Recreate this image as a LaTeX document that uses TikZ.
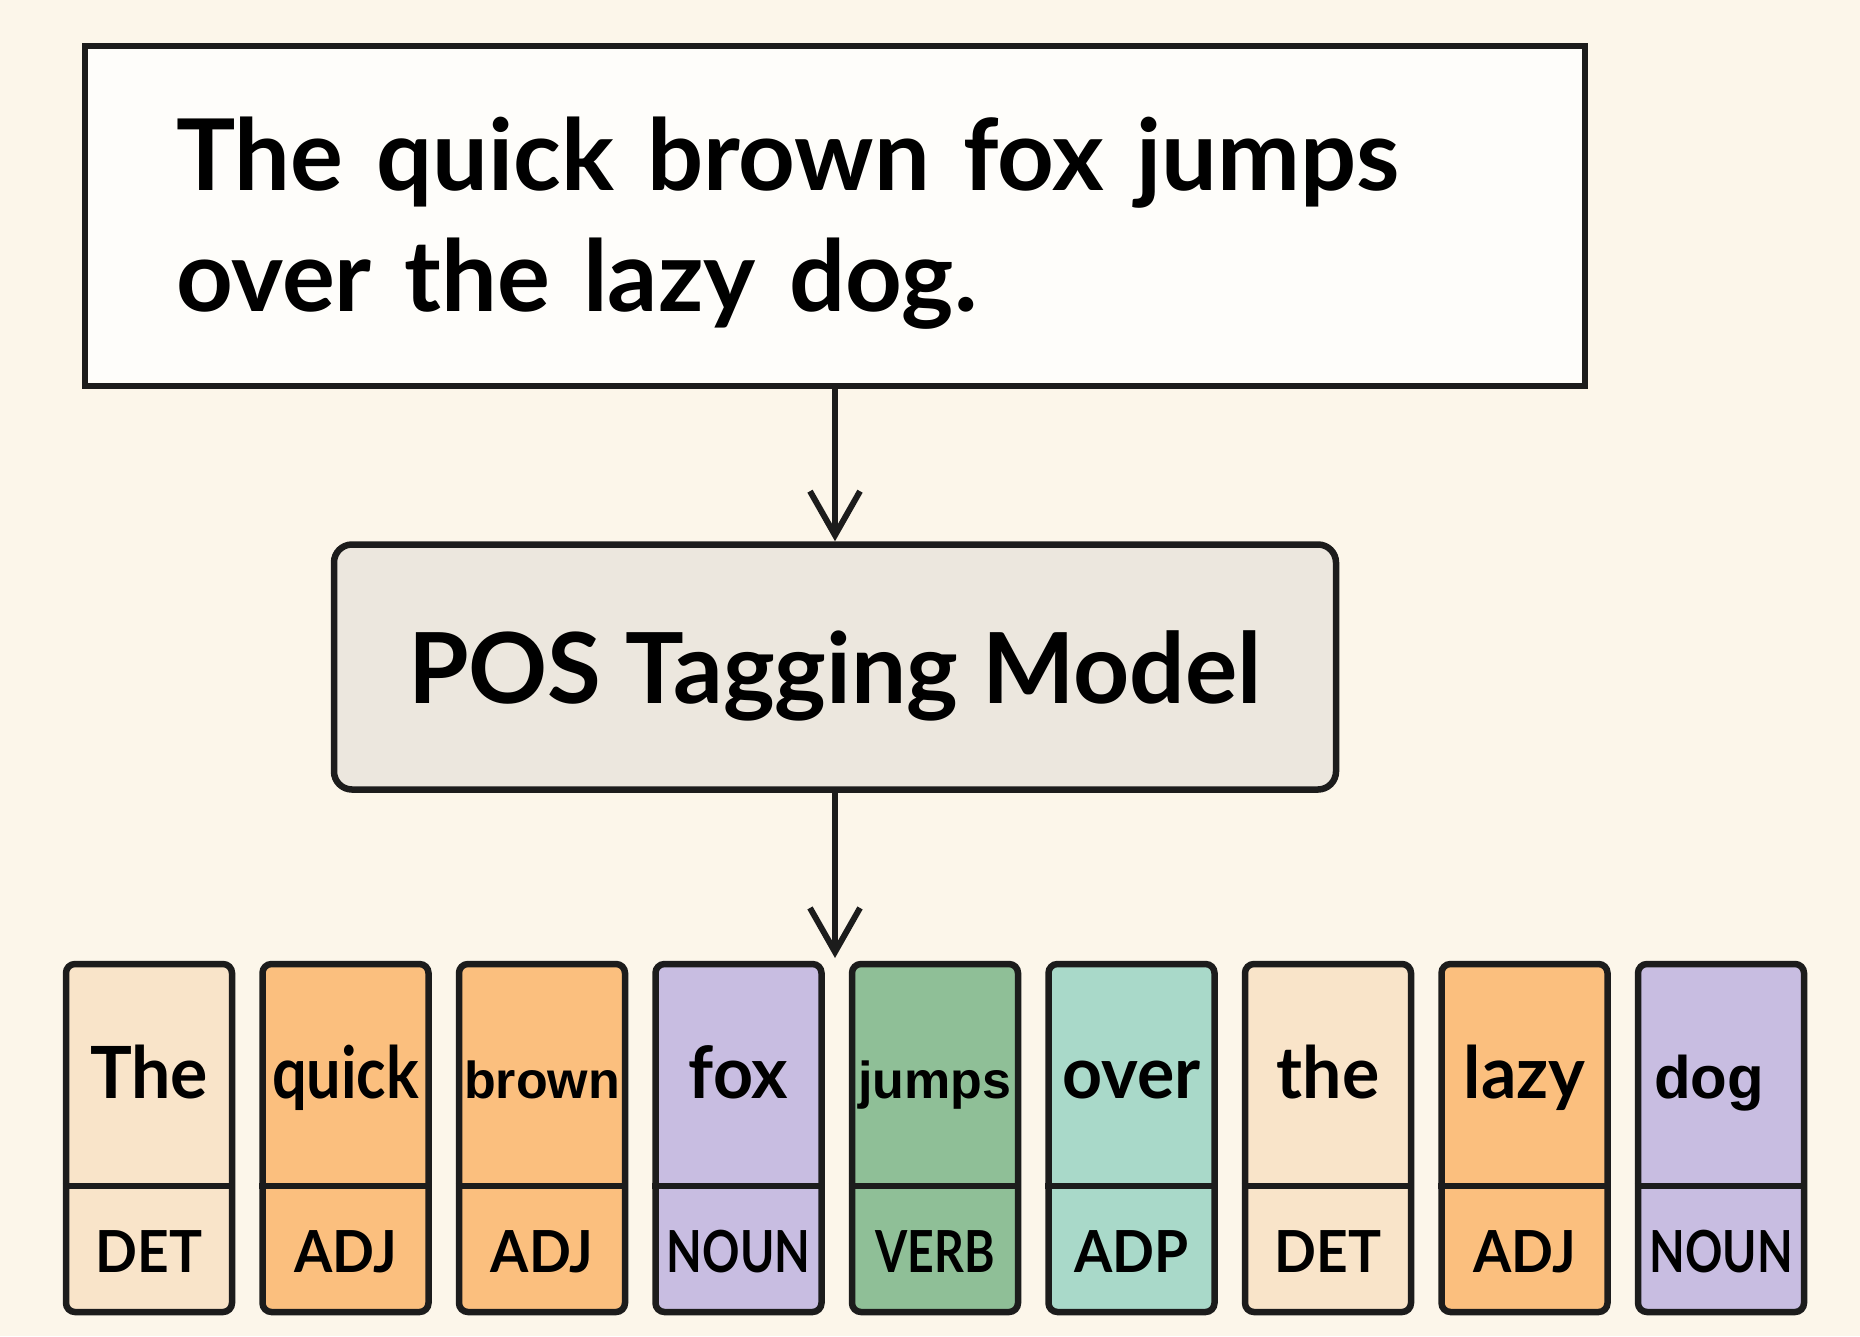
\documentclass[tikz,border=0pt]{standalone}
\usepackage{fontspec}
\setmainfont{Lato}
\newfontfamily\wordfont{Lato}[FakeStretch=0.97]
\newfontfamily\wordnarrowfont{Lato}[FakeStretch=0.85]
\newfontfamily\tagfont{Lato}[FakeStretch=0.95]
\newfontfamily\tagnarrowfont{Lato}[FakeStretch=0.8]
\newfontfamily\arialfont{Liberation Sans}
\usetikzlibrary{arrows.meta}
\definecolor{bg}{HTML}{FCF6EA}
\definecolor{ink}{HTML}{1C1C1C}
\definecolor{paper}{HTML}{FEFDFA}
\definecolor{modelfill}{HTML}{ECE7DE}
\definecolor{detc}{HTML}{F9E4C9}
\definecolor{adjc}{HTML}{FBBF7E}
\definecolor{nounc}{HTML}{C8BDE1}
\definecolor{verbc}{HTML}{8FBF97}
\definecolor{adpc}{HTML}{A9D9C9}
\begin{document}
\begin{tikzpicture}[x=1pt,y=-1pt,
  flow/.style={draw=ink, line width=6pt, -{Straight Barb[length=44pt,width=50pt,line width=6pt]}},
  tok/.style={draw=ink, line width=6.5pt, rounded corners=9pt, minimum width=166pt, minimum height=348pt, inner sep=0pt},
  divider/.style={draw=ink, line width=6.5pt},
  wordlbl/.style={font=\wordfont\bfseries\fontsize{72}{80}\selectfont, anchor=base, inner sep=0pt},
  wordnarrow/.style={font=\wordnarrowfont\bfseries\fontsize{72}{80}\selectfont, anchor=base, inner sep=0pt},
  arialw/.style={font=\arialfont\bfseries\fontsize{52}{60}\selectfont, anchor=base, inner sep=0pt},
  arialbig/.style={font=\arialfont\bfseries\fontsize{60}{66}\selectfont, anchor=base, inner sep=0pt, xshift=-12pt},
  taglbl/.style={font=\tagfont\bfseries\fontsize{58}{64}\selectfont, anchor=base, inner sep=0pt},
  tagnarrow/.style={font=\tagnarrowfont\bfseries\fontsize{58}{64}\selectfont, anchor=base, inner sep=0pt}]
\fill[bg] (0,0) rectangle (1860,1336);
\useasboundingbox (0,0) rectangle (1860,1336);

\node[draw=ink, line width=6.5pt, fill=paper, text width=1318pt, inner xsep=91pt, inner ysep=0pt,
      minimum height=340pt, align=left, font=\bfseries\fontsize{99}{121}\selectfont]
      (input) at (835,216) {\rule{0pt}{88pt}The quick brown fox jumps\\over the lazy dog.};

\node[draw=ink, line width=6.5pt, rounded corners=18pt, fill=modelfill, minimum width=1002pt,
      minimum height=245pt, text depth=0pt, font=\bfseries\fontsize{98}{110}\selectfont]
      (model) at (835,667) {POS Tagging Model};

\coordinate (tagsIn) at (835,958);
\draw[flow] (input.south) -- (model.north);
\draw[flow] (model.south) -- (tagsIn);

\foreach \i/\w/\t/\c/\s/\ts in {0/The/DET/detc/wordlbl/taglbl, 1/quick/ADJ/adjc/wordnarrow/taglbl,
    2/brown/ADJ/adjc/arialw/taglbl, 3/fox/NOUN/nounc/wordlbl/tagnarrow, 4/jumps/VERB/verbc/arialw/tagnarrow,
    5/over/ADP/adpc/wordlbl/taglbl, 6/the/DET/detc/wordlbl/taglbl, 7/lazy/ADJ/adjc/wordlbl/taglbl,
    8/dog/NOUN/nounc/arialbig/tagnarrow} {
  \node[tok, fill=\c] (b\i) at (149+\i*196.5, 1138) {};
  \node[\s] (w\i) at ([yshift=40pt]b\i.center) {\w};
  \node[\ts] (t\i) at ([yshift=-134pt]b\i.center) {\t};
  \draw[divider] ([yshift=-48pt]b\i.west) -- ([yshift=-48pt]b\i.east);
}
\end{tikzpicture}
\end{document}
